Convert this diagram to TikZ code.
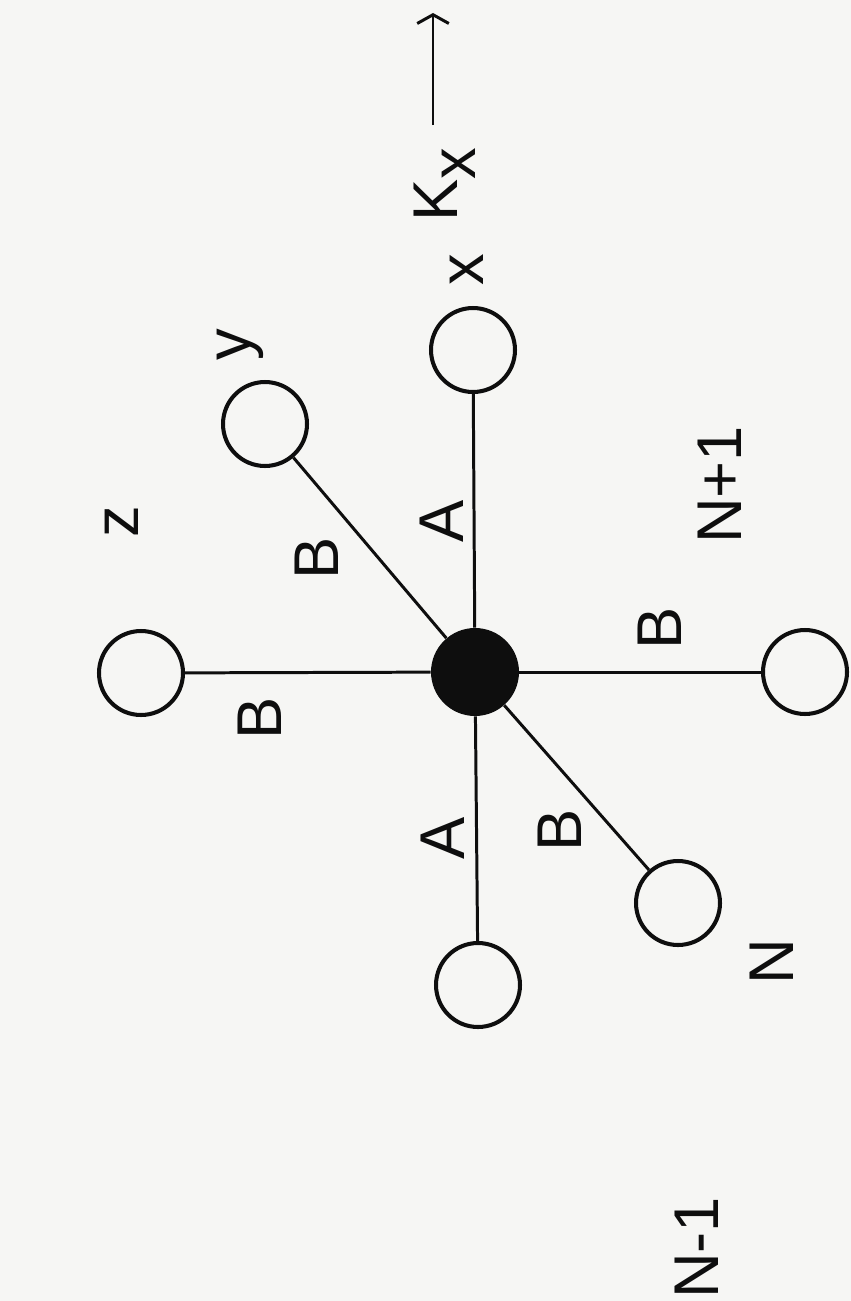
\documentclass[tikz,border=0pt]{standalone}
\usepackage{fontspec}
\setmainfont{Liberation Sans}
\usetikzlibrary{arrows.meta}
\definecolor{PaperWhite}{RGB}{246,246,244}
\definecolor{InkBlack}{RGB}{14,14,14}

\begin{document}
\begin{tikzpicture}[
  x=0.02cm,y=-0.02cm,
  site/.style={circle,draw=InkBlack,line width=2.3pt,minimum size=1.68cm,inner sep=0pt},
  atom/.style={circle,fill=InkBlack,minimum size=1.76cm,inner sep=0pt},
  bond/.style={draw=InkBlack,line width=1.7pt},
  lbl/.style={rotate=90,text=InkBlack,inner sep=0pt,
              font=\fontsize{36}{40}\selectfont},
]
% paper
\fill[PaperWhite] (0,0) rectangle (851,1301);
% central atom and neighbour sites
\node[atom] (hub) at (475,672) {};
\node[site] (sx)  at (473,350) {};
\node[site] (sy)  at (265,424) {};
\node[site] (sz)  at (141,673) {};
\node[site] (snm) at (478,985) {};
\node[site] (sn)  at (678,903) {};
\node[site] (snp) at (805,672) {};
% bonds
\draw[bond] (hub) -- (sx);
\draw[bond] (hub) -- (sy);
\draw[bond] (hub) -- (sz);
\draw[bond] (hub) -- (snm);
\draw[bond] (hub) -- (sn);
\draw[bond] (hub) -- (snp);
% bond labels
\node[lbl] (ax)  at (442,521) {A};
\node[lbl] (anm) at (443,838) {A};
\node[lbl] (by)  at (317,558) {B};
\node[lbl] (bz)  at (260,718) {B};
\node[lbl] (bnp) at (660,628) {B};
\node[lbl] (bn)  at (560,830) {B};
% axis and plane labels
\node[lbl] (tx)  at (467,270) {x};
\node[lbl] (ty)  at (240,345) {y};
\node[lbl] (tz)  at (122,522) {z};
\node[lbl] (kx)  at (445,185) {K\raisebox{-10pt}{x}};
\node[lbl] (pnp) at (720,485) {N+1};
\node[lbl] (pn)  at (772,962) {N};
\node[lbl] (pnm) at (697,1248) {N-1};
% direction of K_x
\coordinate (kaS) at (433,125);
\coordinate (kaE) at (433,13);
\draw[InkBlack,line width=1.7pt,-{Straight Barb[length=5pt,width=18pt]}] (kaS) -- (kaE);
\end{tikzpicture}
\end{document}
